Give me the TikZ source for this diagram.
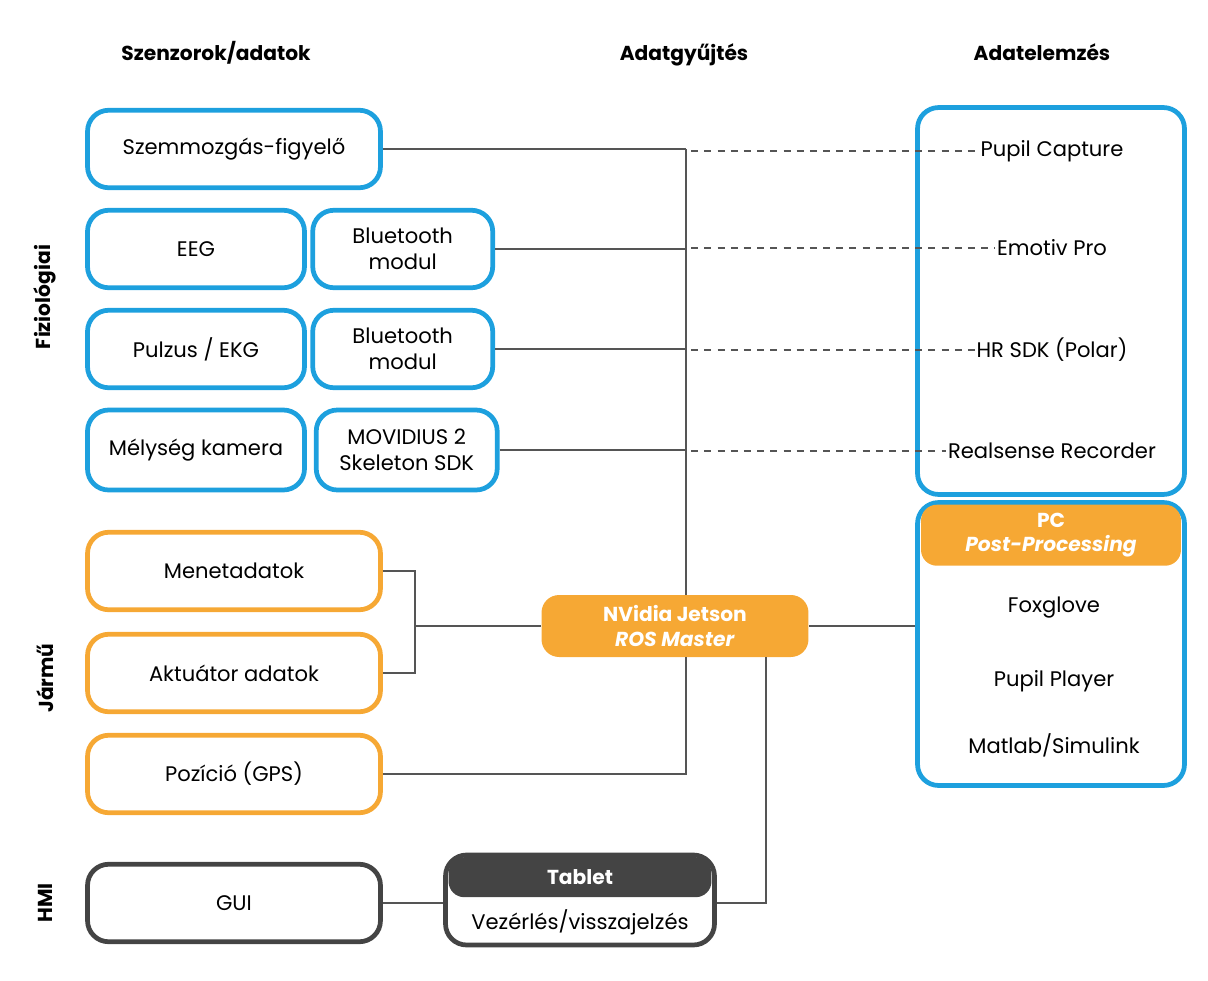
\documentclass[tikz,border=0pt]{standalone}
\usepackage{fontspec}
\setmainfont{Poppins}
\usetikzlibrary{positioning}
\definecolor{sensorblue}{RGB}{29,160,222}
\definecolor{carorange}{RGB}{246,168,52}
\definecolor{hmigray}{RGB}{68,68,68}
\definecolor{wire}{RGB}{85,85,85}

\begin{document}
\begin{tikzpicture}[
		x=0.02cm, y=-0.02cm,
		font=\fontsize{12}{14.5}\selectfont,
		box/.style={draw, line width=2.7pt, rounded corners=12pt, align=center, minimum height=1.55cm},
		phys/.style={box, draw=sensorblue},
		car/.style={box, draw=carorange, minimum width=5.86cm},
		hmi/.style={box, draw=hmigray},
		banner/.style={rounded corners=9pt, text=white, font=\fontsize{11.5}{14}\selectfont\bfseries, align=center},
		link/.style={draw=wire, line width=0.8pt},
		soft/.style={link, dash pattern=on 4pt off 3.5pt, shorten <=3pt},
		head/.style={font=\fontsize{11.5}{14}\selectfont\bfseries, text height=1.7ex, text depth=0.5ex},
		side/.style={font=\fontsize{11.5}{14}\selectfont\bfseries, rotate=90},
		tool/.style={inner sep=1pt}
		]
		\useasboundingbox (0,0) rectangle (1208,981);
		
		% --- Column titles ---
		\node[head] (hsens) at (216,55) {Szenzorok/adatok};
		\node[head] (hcoll) at (684,55) {Adatgyűjtés};
		\node[head] (hanal) at (1042,55) {Adatelemzés};
		
		\node[side] (sphys) at (45,297) {Fiziológiai};
		\node[side] (scar) at (45,678) {Jármű};
		\node[side] (shmi) at (45,903) {HMI};
		
		% --- Physiological sensors ---
		\node[phys, minimum width=5.86cm] (eye) at (234,149) {Szemmozgás-figyelő};
		\node[phys, minimum width=4.34cm] (eeg) at (196,249) {EEG};
		\node[phys, minimum width=3.6cm, right=2pt of eeg] (bt1) {Bluetooth\\modul};
		\node[phys, minimum width=4.34cm] (pulse) at (196,349) {Pulzus / EKG};
		\node[phys, minimum width=3.6cm, right=2pt of pulse] (bt2) {Bluetooth\\modul};
		\node[phys, minimum width=4.34cm, minimum height=1.6cm] (depth) at (196,450) {Mélység kamera};
		\node[phys, minimum width=3.62cm, minimum height=1.6cm, right=4pt of depth] (sdk) {MOVIDIUS 2\\Skeleton SDK};
		
		% --- Vehicle ---
		\node[car] (drive) at (234,571) {Menetadatok};
		\node[car] (act) at (234,673) {Aktuátor adatok};
		\node[car] (gps) at (234,774) {Pozíció (GPS)};
		
		% --- HMI ---
		\node[hmi, minimum width=5.86cm] (gui) at (234,903) {GUI};
		\node[hmi, minimum width=5.38cm, minimum height=1.8cm] (tablet) at (580,900) {};
		\node[banner, fill=hmigray, minimum width=5.26cm, minimum height=0.8cm, below=2.4pt of tablet.north] (tabhead) {Tablet};
		\node[below=0.12cm of tabhead] (tabtext) {Vezérlés/visszajelzés};
		
		% --- Collection ---
		\node[banner, fill=carorange, rounded corners=10pt, minimum width=5.34cm, minimum height=1.24cm] (jetson) at (675,626) {NVidia Jetson\\\textit{ROS Master}};
		
		% --- Analysis ---
		\node[phys, minimum width=5.34cm, minimum height=7.74cm] (live) at (1051,301) {};
		\node[tool] (pupil) at (1052,151) {Pupil Capture};
		\node[tool] (emotiv) at (1052,248) {Emotiv Pro};
		\node[tool] (hrsdk) at (1052,350) {HR SDK (Polar)};
		\node[tool] (rsrec) at (1052,451) {Realsense Recorder};
		
		\node[phys, minimum width=5.34cm, minimum height=5.66cm] (pc) at (1051,644) {};
		\node[banner, fill=carorange, minimum width=5.2cm, minimum height=1.22cm, below=2.4pt of pc.north] (pchead) {PC\\\textit{Post-Processing}};
		\node[tool] (foxglove) at (1054,608) {Foxglove};
		\node[tool] (player) at (1054,681) {Pupil Player};
		\node[tool] (matlab) at (1054,745) {Matlab/Simulink};
		
		% --- Connections ---
		\coordinate (bus) at (686,0);
		\coordinate (fork) at (415,626);
		\coordinate (drop) at (766,903);
		
		\draw[link] (eye.east) -- (eye.east -| bus);
		\draw[link] (bt1.east) -- (bt1.east -| bus);
		\draw[link] (bt2.east) -- (bt2.east -| bus);
		\draw[link] (sdk.east) -- (sdk.east -| bus);
		\draw[link] (eye.east -| bus) -- (jetson.north -| bus);
		\draw[link] (jetson.south -| bus) |- (gps.east);
		\draw[link] (drive.east) -| (fork) |- (act.east);
		\draw[link] (fork) -- (jetson.west);
		\draw[link] (jetson.east) -- (jetson.east -| pc.west);
		\draw[link] (jetson.south -| drop) -- (drop) -- (drop -| tablet.east);
		\draw[link] (gui.east) -- (gui.east -| tablet.west);
		
		\draw[soft] (pupil.west -| bus) -- (pupil.west);
		\draw[soft] (emotiv.west -| bus) -- (emotiv.west);
		\draw[soft] (hrsdk.west -| bus) -- (hrsdk.west);
		\draw[soft] (rsrec.west -| bus) -- (rsrec.west);
		
	\end{tikzpicture}
\end{document}
